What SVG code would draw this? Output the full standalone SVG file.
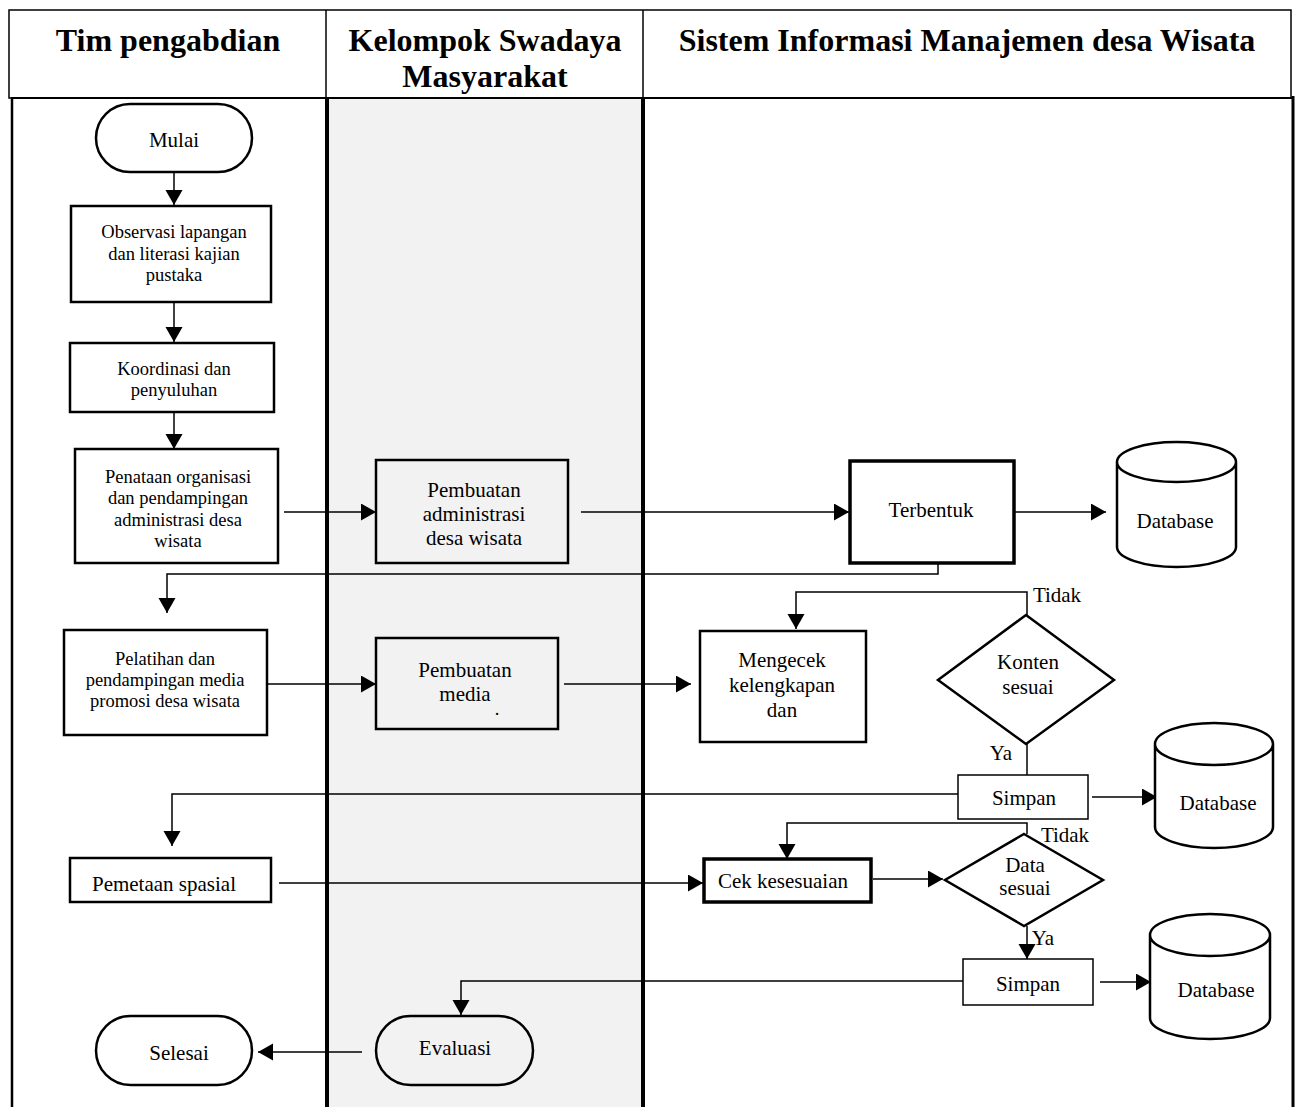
<svg xmlns="http://www.w3.org/2000/svg" width="1297" height="1107" viewBox="0 0 1297 1107">
<defs>
<marker id="arr" markerUnits="userSpaceOnUse" markerWidth="16" markerHeight="18" refX="15" refY="8.5" orient="auto">
<path d="M0,0 L15,8.5 L0,17 z" fill="#000"/>
</marker>
<style>
text{font-family:"Liberation Serif","Times New Roman",serif;fill:#000;text-anchor:middle}
.hd{font-size:32px;font-weight:bold}
.s{font-size:18.5px}
.m{font-size:21px}
.box{fill:#fff;stroke:#000;stroke-width:2.5}
.boxg{fill:#f2f2f2;stroke:#000;stroke-width:2.5}
.boxb{fill:#fff;stroke:#000;stroke-width:3.5}
.thin{fill:#fff;stroke:#000;stroke-width:1.5}
.con{fill:none;stroke:#000;stroke-width:1.5}
.arr{marker-end:url(#arr)}
.lane{stroke:#000;fill:none}
</style>
</defs>
<rect x="0" y="0" width="1297" height="1107" fill="#fff"/>
<g id="lanes">
<rect x="327" y="98" width="316" height="1009" fill="#f2f2f2"/>
<rect x="9" y="10" width="1282" height="88" fill="#fff" stroke="#000" stroke-width="1.5"/>
<line x1="326" y1="10" x2="326" y2="98" stroke="#000" stroke-width="1.5"/>
<line x1="643" y1="10" x2="643" y2="98" stroke="#000" stroke-width="1.5"/>
<line x1="12" y1="98" x2="1293" y2="98" stroke="#000" stroke-width="2"/>
<line class="lane" x1="12" y1="97" x2="12" y2="1107" stroke-width="2.5"/>
<line class="lane" x1="327" y1="97" x2="327" y2="1107" stroke-width="4"/>
<line class="lane" x1="643" y1="97" x2="643" y2="1107" stroke-width="4"/>
<line class="lane" x1="1293" y1="96" x2="1293" y2="1107" stroke-width="3"/>
<text class="hd" x="168" y="51">Tim pengabdian</text>
<text class="hd" x="485" y="51">Kelompok Swadaya</text>
<text class="hd" x="485" y="87">Masyarakat</text>
<text class="hd" x="967" y="51">Sistem Informasi Manajemen desa Wisata</text>
</g>
<g id="connectors">
<path class="con arr" d="M174,172 V205"/>
<path class="con arr" d="M174,302 V342"/>
<path class="con arr" d="M174,412 V449"/>
<path class="con arr" d="M284,512 H376"/>
<path class="con arr" d="M581,512 H849"/>
<path class="con arr" d="M1014,512 H1106"/>
<path class="con arr" d="M938,560 V574 H167 V613"/>
<path class="con arr" d="M267,684 H376"/>
<path class="con arr" d="M564,684 H691"/>
<path class="con arr" d="M1027,615 V592 H796 V629"/>
<path class="con" d="M1027,744 V775"/>
<path class="con arr" d="M958,794 H172 V846"/>
<path class="con arr" d="M1092,797 H1157"/>
<path class="con arr" d="M279,883 H703"/>
<path class="con arr" d="M873,879 H943"/>
<path class="con arr" d="M1027,834 V823 H787 V859"/>
<path class="con arr" d="M1027,926 V959"/>
<path class="con arr" d="M963,981 H461 V1015"/>
<path class="con arr" d="M1100,982 H1151"/>
<path class="con arr" d="M362,1052 H258"/>
<text class="m" x="1057" y="602" style="text-anchor:middle">Tidak</text>
<text class="m" x="1001" y="760">Ya</text>
<text class="m" x="1065" y="842">Tidak</text>
<text class="m" x="1043" y="945">Ya</text>
</g>
<g id="mulai">
<rect class="box" x="96" y="104" width="156" height="68" rx="34"/>
<text class="m" x="174" y="147">Mulai</text>
</g>
<g id="observasi">
<rect class="box" x="71" y="206" width="200" height="96"/>
<text class="s" x="174" y="238">Observasi lapangan</text>
<text class="s" x="174" y="260">dan literasi kajian</text>
<text class="s" x="174" y="281">pustaka</text>
</g>
<g id="koordinasi">
<rect class="box" x="70" y="343" width="204" height="69"/>
<text class="s" x="174" y="375">Koordinasi dan</text>
<text class="s" x="174" y="396">penyuluhan</text>
</g>
<g id="penataan">
<rect class="box" x="75" y="449" width="203" height="114"/>
<text class="s" x="178" y="483">Penataan organisasi</text>
<text class="s" x="178" y="504">dan pendampingan</text>
<text class="s" x="178" y="526">administrasi desa</text>
<text class="s" x="178" y="547">wisata</text>
</g>
<g id="pembuatan-administrasi">
<rect class="boxg" x="376" y="460" width="192" height="103"/>
<text class="m" x="474" y="497">Pembuatan</text>
<text class="m" x="474" y="521">administrasi</text>
<text class="m" x="474" y="545">desa wisata</text>
</g>
<g id="terbentuk">
<rect class="boxb" x="850" y="461" width="164" height="102"/>
<text class="m" x="931" y="517">Terbentuk</text>
</g>
<g id="database-1">
<path class="box" d="M1117,462 A59.5,20 0 0 1 1236,462 V547 A59.5,20 0 0 1 1117,547 Z M1117,462 A59.5,20 0 0 0 1236,462"/>
<text class="m" x="1175" y="528">Database</text>
</g>
<g id="pelatihan">
<rect class="box" x="64" y="630" width="203" height="105"/>
<text class="s" x="165" y="665">Pelatihan dan</text>
<text class="s" x="165" y="686">pendampingan media</text>
<text class="s" x="165" y="707">promosi desa wisata</text>
</g>
<g id="pembuatan-media">
<rect class="boxg" x="376" y="638" width="182" height="91"/>
<text class="m" x="465" y="677">Pembuatan</text>
<text class="m" x="465" y="701">media</text>
<text class="s" x="497" y="715">.</text>
</g>
<g id="mengecek">
<rect class="box" x="700" y="631" width="166" height="111" stroke-width="3"/>
<text class="m" x="782" y="667">Mengecek</text>
<text class="m" x="782" y="692">kelengkapan</text>
<text class="m" x="782" y="717">dan</text>
</g>
<g id="konten-sesuai">
<path class="box" d="M1026,615 L1114,680 L1026,744 L938,680 Z"/>
<text class="m" x="1028" y="669">Konten</text>
<text class="m" x="1028" y="694">sesuai</text>
</g>
<g id="simpan-1">
<rect class="thin" x="958" y="775" width="130" height="44"/>
<text class="m" x="1024" y="805">Simpan</text>
</g>
<g id="database-2">
<path class="box" d="M1155,744 A59,21 0 0 1 1273,744 V827 A59,21 0 0 1 1155,827 Z M1155,744 A59,21 0 0 0 1273,744"/>
<text class="m" x="1218" y="810">Database</text>
</g>
<g id="pemetaan">
<rect class="box" x="70" y="858" width="201" height="44"/>
<text class="m" x="164" y="891">Pemetaan spasial</text>
</g>
<g id="cek-kesesuaian">
<rect class="boxb" x="704" y="859" width="167" height="43"/>
<text class="m" x="783" y="888">Cek kesesuaian</text>
</g>
<g id="data-sesuai">
<path class="box" d="M1024,834 L1103,880 L1024,926 L945,880 Z"/>
<text class="m" x="1025" y="872">Data</text>
<text class="m" x="1025" y="895">sesuai</text>
</g>
<g id="simpan-2">
<rect class="thin" x="963" y="959" width="130" height="46"/>
<text class="m" x="1028" y="991">Simpan</text>
</g>
<g id="database-3">
<path class="box" d="M1150,935 A60,21 0 0 1 1270,935 V1018 A60,21 0 0 1 1150,1018 Z M1150,935 A60,21 0 0 0 1270,935"/>
<text class="m" x="1216" y="997">Database</text>
</g>
<g id="evaluasi">
<rect class="boxg" x="376" y="1016" width="157" height="69" rx="34.5"/>
<text class="m" x="455" y="1055">Evaluasi</text>
</g>
<g id="selesai">
<rect class="box" x="96" y="1016" width="156" height="69" rx="34.5"/>
<text class="m" x="179" y="1060">Selesai</text>
</g>
</svg>
